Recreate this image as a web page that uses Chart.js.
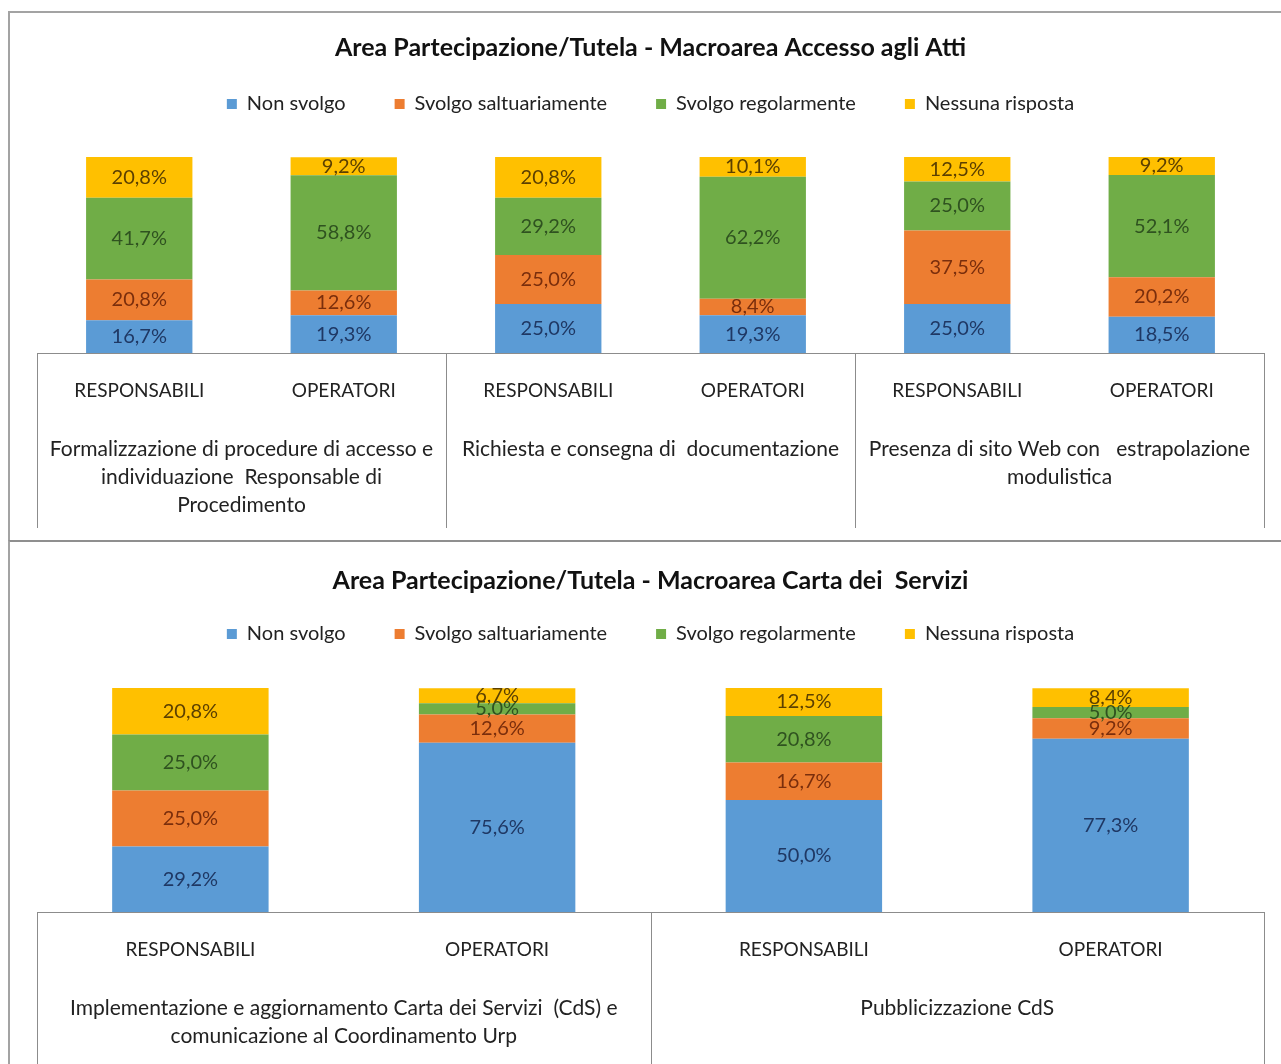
<!DOCTYPE html>
<html lang="it">
<head>
<meta charset="utf-8">
<title>Area Partecipazione/Tutela</title>
<script src="https://cdn.jsdelivr.net/npm/chart.js@4.4.1/dist/chart.umd.min.js"></script>
<style>
  html, body { margin: 0; padding: 0; background: #fff; }
  body { position: relative; width: 1281px; height: 1064px; overflow: hidden; }
  .frame { position: absolute; left: 8px; width: 1300px; box-sizing: border-box;
           border-left: 2px solid #a3a3a3; border-top: 2px solid #a3a3a3; }
  #frameAtti { top: 11px; height: 529px; }
  #frameCarta { top: 540px; height: 560px; border-top-color: #8f8f8f; }
  canvas { position: absolute; left: 0; }
  #chartAtti { top: 14px; }
  #chartCarta { top: 543px; }
</style>
</head>
<body>
<div class="frame" id="frameAtti"></div>
<div class="frame" id="frameCarta"></div>
<canvas id="chartAtti" width="1281" height="527"></canvas>
<canvas id="chartCarta" width="1281" height="521"></canvas>
<script>
const FONT = "Lato, 'Open Sans', sans-serif";

// Series (stacked bottom to top)
const seriesNames = ['Non svolgo', 'Svolgo saltuariamente', 'Svolgo regolarmente', 'Nessuna risposta'];
const seriesColors = ['#5b9bd5', '#ed7d31', '#70ad47', '#ffc000'];
const valueColors = ['#1f3864', '#7a2e0c', '#2f5220', '#5c4000'];

// Macroarea Accesso agli Atti
const attiTitle = 'Area Partecipazione/Tutela - Macroarea Accesso agli Atti';
const attiRoles = ['RESPONSABILI', 'OPERATORI', 'RESPONSABILI', 'OPERATORI', 'RESPONSABILI', 'OPERATORI'];
const attiGroups = [
  ['Formalizzazione di procedure di accesso e', 'individuazione  Responsable di', 'Procedimento'],
  ['Richiesta e consegna di  documentazione'],
  ['Presenza di sito Web con   estrapolazione', 'modulistica']
];
const attiNonSvolgo          = [16.7, 19.3, 25.0, 19.3, 25.0, 18.5];
const attiSaltuariamente     = [20.8, 12.6, 25.0,  8.4, 37.5, 20.2];
const attiRegolarmente       = [41.7, 58.8, 29.2, 62.2, 25.0, 52.1];
const attiNessunaRisposta    = [20.8,  9.2, 20.8, 10.1, 12.5,  9.2];

// Macroarea Carta dei Servizi
const cartaTitle = 'Area Partecipazione/Tutela - Macroarea Carta dei  Servizi';
const cartaRoles = ['RESPONSABILI', 'OPERATORI', 'RESPONSABILI', 'OPERATORI'];
const cartaGroups = [
  ['Implementazione e aggiornamento Carta dei Servizi  (CdS) e', 'comunicazione al Coordinamento Urp'],
  ['Pubblicizzazione CdS']
];
const cartaNonSvolgo         = [29.2, 75.6, 50.0, 77.3];
const cartaSaltuariamente    = [25.0, 12.6, 16.7,  9.2];
const cartaRegolarmente      = [25.0,  5.0, 20.8,  5.0];
const cartaNessunaRisposta   = [20.8,  6.7, 12.5,  8.4];

function pct(v) { return v.toFixed(1).replace('.', ',') + '%'; }

// Percentage written in the middle of every stacked segment
const valueLabels = {
  id: 'valueLabels',
  afterDatasetsDraw(chart) {
    const ctx = chart.ctx;
    ctx.save();
    ctx.font = '20px ' + FONT;
    ctx.textAlign = 'center';
    ctx.textBaseline = 'middle';
    chart.data.datasets.forEach((ds, i) => {
      chart.getDatasetMeta(i).data.forEach((bar, j) => {
        const p = bar.getCenterPoint();
        ctx.fillStyle = valueColors[i];
        ctx.fillText(pct(ds.data[j]), p.x, p.y);
      });
    });
    ctx.restore();
  }
};

// Vertical rules between the question groups under the axis
const groupDividers = {
  id: 'groupDividers',
  afterDraw(chart, args, opts) {
    const groups = chart.scales.x2;
    const { ctx, chartArea } = chart;
    ctx.save();
    ctx.strokeStyle = opts.color;
    ctx.lineWidth = 1;
    ctx.beginPath();
    for (let i = 0; i <= groups.getLabels().length; i++) {
      const px = Math.round(groups.getPixelForValue(i - 0.5)) + 0.5;
      ctx.moveTo(px, chartArea.bottom);
      ctx.lineTo(px, opts.bottom);
    }
    ctx.stroke();
    ctx.restore();
  }
};

// Empty layout box that leaves room between the legend and the bars
function legendSpacer(gap) {
  return {
    id: 'legendSpacer',
    beforeInit(chart) {
      Chart.layouts.addBox(chart, {
        position: 'top', weight: 500, fullSize: true, options: {},
        left: 0, top: 0, right: 0, bottom: 0, width: 0, height: 0,
        isHorizontal() { return true; },
        update(maxWidth) { this.width = maxWidth; this.height = gap; },
        draw() {}
      });
    }
  };
}

function makeChart(canvasId, title, roles, groups, values, lay) {
  return new Chart(document.getElementById(canvasId), {
    type: 'bar',
    data: {
      labels: roles,
      datasets: seriesNames.map((name, i) => ({
        label: name,
        data: values[i],
        backgroundColor: seriesColors[i],
        borderWidth: 0,
        barPercentage: lay.bar,
        categoryPercentage: 1
      }))
    },
    options: {
      responsive: false,
      animation: false,
      events: [],
      layout: { padding: { left: 37, right: 17, top: 0, bottom: 0 } },
      plugins: {
        title: {
          display: true, text: title, color: '#111',
          font: { family: FONT, size: 25, weight: 'bold', lineHeight: 1 },
          padding: { top: lay.titleTop, bottom: lay.titleBottom }
        },
        legend: {
          position: 'top',
          labels: { boxWidth: 10, boxHeight: 10, padding: 49, color: '#222',
                    font: { family: FONT, size: 20 } }
        },
        tooltip: { enabled: false },
        groupDividers: { color: '#8c8c8c', bottom: lay.dividerEnd }
      },
      scales: {
        x: {
          stacked: true, weight: 0,
          grid: { display: false, drawTicks: false },
          border: { display: true, color: '#8c8c8c' },
          ticks: { color: '#222', font: { family: FONT, size: 19 }, padding: 26,
                   maxRotation: 0, autoSkip: false },
          afterFit(s) { s.height = 60; }
        },
        x2: {
          type: 'category', labels: groups, offset: true, position: 'bottom', weight: 1,
          grid: { display: false, drawTicks: false },
          border: { display: false },
          ticks: { color: '#222', font: { family: FONT, size: 21, lineHeight: '28px' }, padding: 22,
                   maxRotation: 0, autoSkip: false },
          afterFit(s) { s.height = lay.groupHeight; }
        },
        y: { stacked: true, display: false, min: 0, max: 100 }
      }
    },
    plugins: [valueLabels, groupDividers, legendSpacer(lay.gap)]
  });
}

makeChart('chartAtti', attiTitle, attiRoles, attiGroups,
  [attiNonSvolgo, attiSaltuariamente, attiRegolarmente, attiNessunaRisposta],
  { bar: 0.52, titleTop: 21, titleBottom: -15, gap: 33, groupHeight: 128, dividerEnd: 514 });

makeChart('chartCarta', cartaTitle, cartaRoles, cartaGroups,
  [cartaNonSvolgo, cartaSaltuariamente, cartaRegolarmente, cartaNessunaRisposta],
  { bar: 0.51, titleTop: 25, titleBottom: -18, gap: 34, groupHeight: 92, dividerEnd: 521 });
</script>
</body>
</html>
